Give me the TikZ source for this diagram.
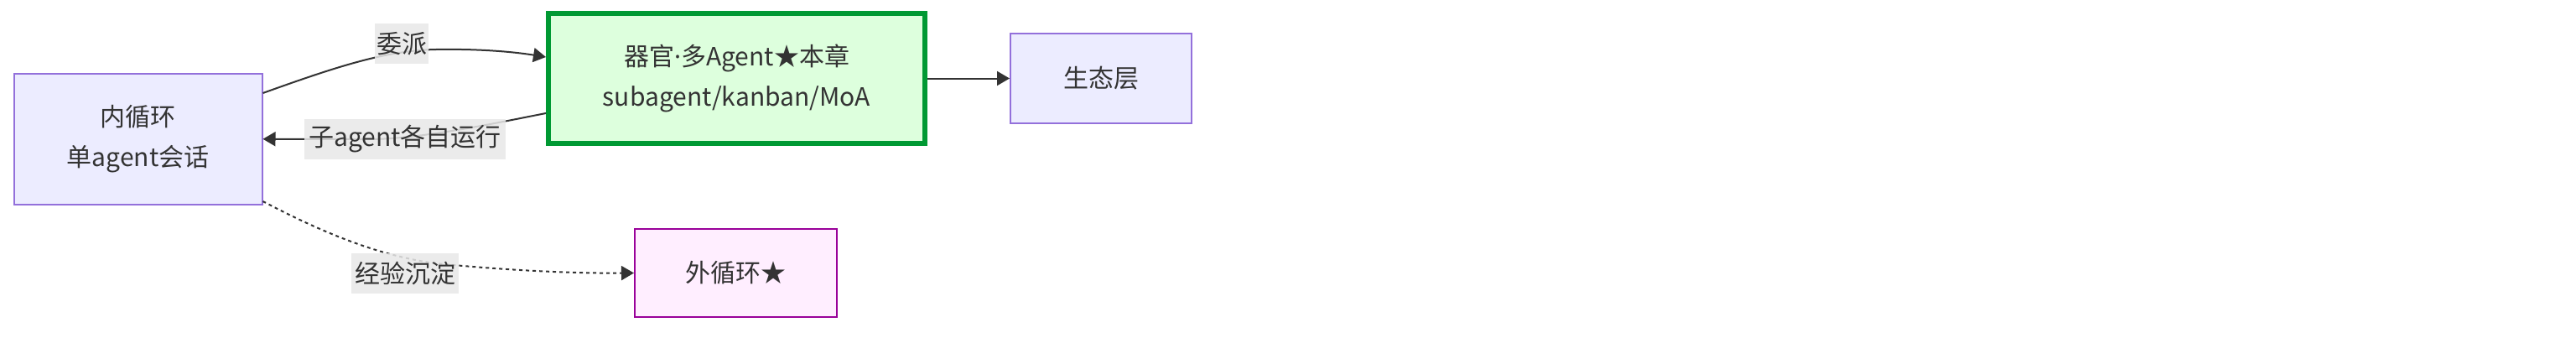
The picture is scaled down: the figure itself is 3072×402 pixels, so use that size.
\documentclass[tikz,border=0pt]{standalone}
\usepackage{fontspec}
\setmainfont{Noto Sans CJK SC}
\newfontfamily\latinfont{Noto Sans}
\usetikzlibrary{arrows.meta,calc}
\definecolor{txt}{HTML}{333333}
\definecolor{bluefill}{HTML}{ECECFF}
\definecolor{bluedraw}{HTML}{9370DB}
\definecolor{greenfill}{HTML}{DDFFDD}
\definecolor{greendraw}{HTML}{009933}
\definecolor{pinkfill}{HTML}{FFEEFF}
\definecolor{pinkdraw}{HTML}{990099}
\definecolor{lblbg}{HTML}{E8E8E8}
\tikzset{
  every node/.style={font=\fontsize{15pt}{24pt}\selectfont, text=txt},
  bluebox/.style={draw=bluedraw, fill=bluefill, line width=1pt, inner sep=0pt, align=center},
  greenbox/.style={draw=greendraw, fill=greenfill, line width=3pt, inner sep=0pt, align=center},
  pinkbox/.style={draw=pinkdraw, fill=pinkfill, line width=1pt, inner sep=0pt, align=center},
  edgelbl/.style={fill=lblbg, fill opacity=0.85, text opacity=1, inner sep=0pt, minimum height=24pt},
  conn/.style={draw=txt, line width=1pt, -{Triangle[length=7.5pt,width=8.5pt]}},
  dotconn/.style={conn, dash pattern=on 2pt off 2pt},
}
\begin{document}
\begin{tikzpicture}[x=0.5pt,y=-0.5pt]
\useasboundingbox[fill=white] (0,0) rectangle (3072,402);
% nodes
\node[bluebox, minimum width=148pt, minimum height=77.75pt] (in) at (164.5,165.75) {内循环\\单agent会话};
\node[greenbox, minimum width=224.5pt, minimum height=77.5pt] (org) at (878.5,93.5) {器官{\latinfont ·}多Agent★本章\\subagent/kanban/MoA};
\node[bluebox, minimum width=108pt, minimum height=53.5pt] (eco) at (1313,93.5) {生态层};
\node[pinkbox, minimum width=120.5pt, minimum height=52.5pt] (out) at (877.5,325.5) {外循环★};
% edges
\draw[conn] ($(in.east)+(0,-54.75)$) .. controls (400,80) and (460,60) .. (520,59)
   .. controls (580,58) and (620,63) .. ($(org.west)+(0,-25.5)$);
\draw[conn] ($(org.west)+(0,41.5)$) .. controls (590,147) and (500,166) .. (440,166) -- (in.east);
\draw[conn] (org.east) -- (eco.west);
\draw[dotconn] ($(in.east)+(0,74.25)$) .. controls (380,275) and (450,305) .. (520,314)
   .. controls (600,322) and (680,326) .. (out.west);
% edge labels
\node[edgelbl, minimum width=32pt] (l1) at (479,52) {委派};
\node[edgelbl, minimum width=120pt] (l2) at (483,166) {子agent各自运行};
\node[edgelbl, minimum width=64pt] (l3) at (483,326) {经验沉淀};
\end{tikzpicture}
\end{document}
